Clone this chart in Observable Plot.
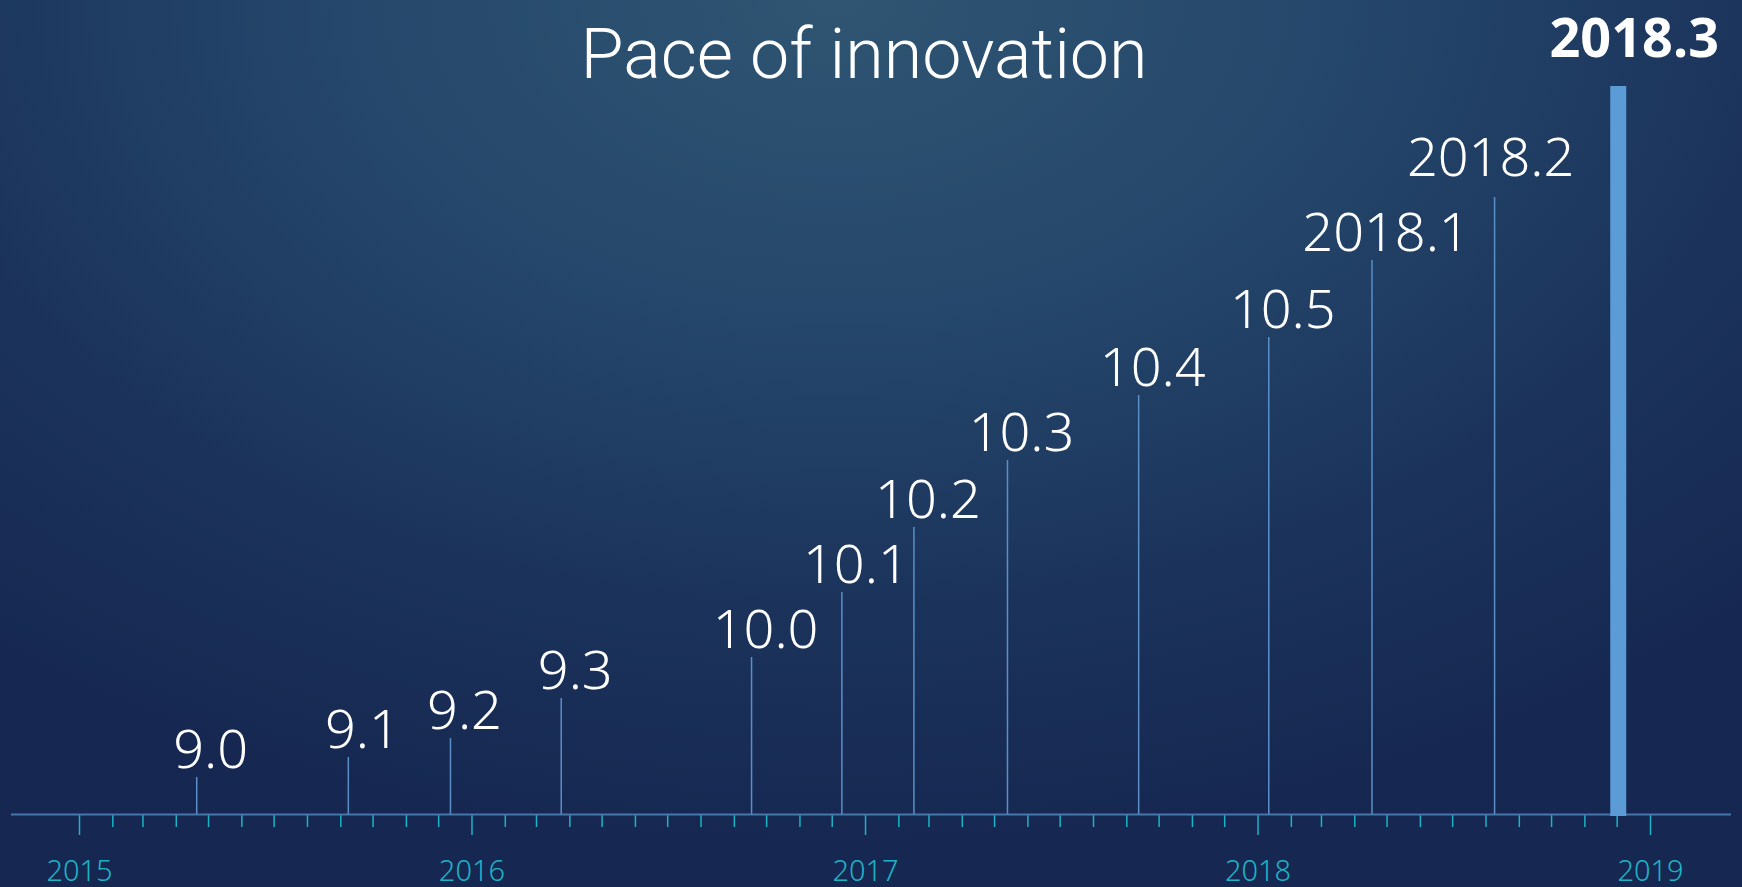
<!DOCTYPE html>
<html>
<head>
<meta charset="utf-8">
<script src="https://cdn.jsdelivr.net/npm/d3@7"></script>
<script src="https://cdn.jsdelivr.net/npm/@observablehq/plot@0.6"></script>
<style>
  html, body { margin: 0; padding: 0; }
  body { width: 1742px; height: 887px; overflow: hidden; }
  #wrap {
    position: relative; width: 1742px; height: 887px;
    background: radial-gradient(ellipse 75% 95% at 48% 0%, #2f5572 0%, #25476b 38%, #1b335b 72%, #162851 100%);
    font-family: Roboto, "Open Sans", sans-serif;
  }
  #title {
    position: absolute; left: 0; width: 1728px; top: 14px; text-align: center;
    color: #ffffff; font-size: 70px; font-weight: 300; line-height: 80px;
  }
  #chart { position: absolute; left: 0; top: 0; }
</style>
</head>
<body>
<div id="wrap">
  <div id="title">Pace of innovation</div>
  <div id="chart"></div>
</div>
<script>
// Releases
const versions = ["9.0", "9.1", "9.2", "9.3", "10.0", "10.1", "10.2", "10.3", "10.4", "10.5", "2018.1", "2018.2", "2018.3"];
const releaseDates = ["2015-04-20", "2015-09-08", "2015-12-12", "2016-03-24", "2016-09-17", "2016-12-10",
  "2017-02-15", "2017-05-13", "2017-09-12", "2018-01-11", "2018-04-17", "2018-08-09", "2018-12-02"];
const heights = [37, 57, 76, 116, 157, 222, 287, 354, 419, 477, 554, 617, 728];
const yearLabels = ["2015", "2016", "2017", "2018", "2019"];

const data = versions.map((v, i) => ({version: v, date: new Date(releaseDates[i]), h: heights[i], i}));
const last = data.length - 1;
const years = yearLabels.map(y => new Date(`${y}-01-01`));
const months = d3.utcMonth.range(years[0], d3.utcMonth.offset(years[years.length - 1], 1));
const minor = months.filter(d => d.getUTCMonth() !== 0);

const lineColor = "#5b8fc7";
const tickColor = "#1cb3c6";

const chart = Plot.plot({
  width: 1742,
  height: 887,
  marginLeft: 11,
  marginRight: 11,
  marginTop: 0,
  marginBottom: 0,
  style: {background: "transparent", overflow: "visible"},
  x: {type: "utc", domain: [years[0], years[years.length - 1]], range: [79, 1650], axis: null},
  y: {domain: [0, 814], range: [814, 0], axis: null},
  marks: [
    // minor ticks
    Plot.ruleX(minor, {x: d => d, y1: 0, y2: -13, stroke: tickColor, strokeWidth: 1.5}),
    // major ticks
    Plot.ruleX(years, {x: d => d, y1: 0, y2: -21, stroke: tickColor, strokeWidth: 1.5}),
    // axis baseline
    Plot.ruleY([0], {stroke: "#4677ab", strokeWidth: 2}),
    // year labels
    Plot.text(years, {x: d => d, y: -66, text: (d, i) => yearLabels[i], fill: tickColor,
      fontSize: 29, fontWeight: 300, textAnchor: "middle", lineAnchor: "bottom"}),
    // release lines
    Plot.ruleX(data.filter(d => d.i !== last), {x: "date", y1: 0, y2: "h", stroke: lineColor, strokeWidth: 1.5}),
    // latest release bar
    Plot.ruleX(data.filter(d => d.i === last), {x: "date", y1: -2, y2: "h", stroke: "#5b9bd6", strokeWidth: 16}),
    // labels
    Plot.text(data.filter(d => d.i < last - 1), {x: "date", y: "h", text: "version", fill: "white",
      fontSize: 54, fontWeight: 300, textAnchor: "middle", lineAnchor: "bottom", dx: 14, dy: -10}),
    Plot.text(data.filter(d => d.i === last - 1), {x: "date", y: "h", text: "version", fill: "white",
      fontSize: 54, fontWeight: 300, textAnchor: "middle", lineAnchor: "bottom", dx: -4, dy: -22}),
    Plot.text(data.filter(d => d.i === last), {x: "date", y: "h", text: "version", fill: "white",
      fontSize: 54, fontWeight: 700, textAnchor: "middle", lineAnchor: "bottom", dx: 16, dy: -30})
  ]
});
document.getElementById("chart").appendChild(chart);
</script>
</body>
</html>
